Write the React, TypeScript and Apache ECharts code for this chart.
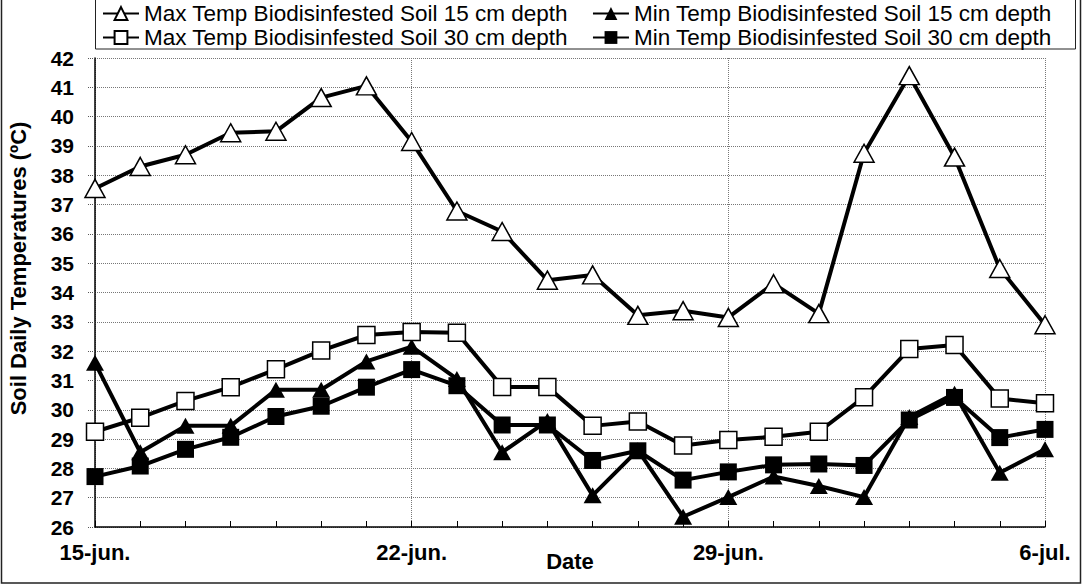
import React, { useEffect, useRef } from "react";
import * as echarts from "echarts";

const categories = [
  "15-jun.", "16-jun.", "17-jun.", "18-jun.", "19-jun.", "20-jun.", "21-jun.",
  "22-jun.", "23-jun.", "24-jun.", "25-jun.", "26-jun.", "27-jun.", "28-jun.",
  "29-jun.", "30-jun.", "1-jul.", "2-jul.", "3-jul.", "4-jul.", "5-jul.", "6-jul.",
];

const max15 = [37.55, 38.3, 38.7, 39.45, 39.5, 40.65, 41.05, 39.15, 36.78, 36.08, 34.42, 34.6, 33.22, 33.38, 33.15, 34.3, 33.28, 38.75, 41.4, 38.62, 34.82, 32.9];
const min15 = [31.6, 28.55, 29.45, 29.45, 30.68, 30.68, 31.65, 32.15, 31.05, 28.55, 29.62, 27.08, 28.62, 26.35, 27.02, 27.72, 27.4, 27.02, 29.75, 30.55, 27.85, 28.65];
const max30 = [29.25, 29.73, 30.3, 30.77, 31.38, 32.02, 32.55, 32.65, 32.63, 30.78, 30.78, 29.45, 29.6, 28.78, 28.97, 29.08, 29.25, 30.43, 32.07, 32.21, 30.38, 30.22];
const min30 = [27.72, 28.08, 28.65, 29.06, 29.77, 30.12, 30.77, 31.37, 30.82, 29.48, 29.48, 28.27, 28.6, 27.6, 27.88, 28.12, 28.15, 28.1, 29.65, 30.42, 29.05, 29.33];

const names = [
  "Max Temp Biodisinfested Soil 15 cm depth",
  "Min Temp Biodisinfested Soil 15 cm depth",
  "Max Temp Biodisinfested Soil 30 cm depth",
  "Min Temp Biodisinfested Soil 30 cm depth",
];

const yMin = 26;
const yMax = 42;
const yStep = 1;

const FONT = "'Liberation Sans', Arial, Helvetica, sans-serif";

export default function App() {
  const ref = useRef<HTMLDivElement>(null);

  useEffect(() => {
    if (!ref.current) return;
    const chart = echarts.init(ref.current, null, { renderer: "svg" });

    const mkSeries = (name: string, data: number[], symbol: string, size: any, filled: boolean) => ({
      name,
      type: "line",
      data,
      symbol,
      symbolSize: size,
      showSymbol: true,
      lineStyle: { color: "#000", width: 4 },
      itemStyle: {
        color: filled ? "#000" : "#fff",
        borderColor: "#000",
        borderWidth: filled ? 0 : 1.5,
      },
      emphasis: { disabled: true },
    });

    const legendText = { fontFamily: FONT, fontSize: 22.5, color: "#000" };
    const legendCommon = {
      left: 102,
      padding: 0,
      itemGap: 24,
      itemWidth: 36,
      itemHeight: 16,
      textStyle: legendText,
    };

    chart.setOption({
      animation: false,
      backgroundColor: "#fff",
      textStyle: { fontFamily: FONT },
      graphic: [
        {
          type: "rect",
          silent: true,
          shape: { x: 1.5, y: -1, width: 1079, height: 584 },
          style: { fill: "none", stroke: "#222", lineWidth: 1.5 },
        },
        {
          type: "rect",
          silent: true,
          shape: { x: 95.5, y: -1, width: 980, height: 50 },
          style: { fill: "none", stroke: "#222", lineWidth: 1 },
        },
      ],
      legend: [
        { ...legendCommon, data: [names[0], names[1]], top: 2 },
        { ...legendCommon, data: [names[2], names[3]], top: 26 },
      ],
      grid: {
        left: 95,
        right: 39,
        top: 58,
        bottom: 59,
        containLabel: false,
        outerBoundsMode: "none",
      },
      xAxis: {
        type: "category",
        data: categories,
        boundaryGap: false,
        name: "Date",
        nameLocation: "middle",
        nameGap: 23,
        nameMoveOverlap: false,
        nameTextStyle: { fontFamily: FONT, fontSize: 22, fontWeight: "bold", color: "#000" },
        axisLine: { lineStyle: { color: "#000", width: 1.5 } },
        axisTick: { show: true, inside: true, length: 6, interval: 0, lineStyle: { color: "#000" } },
        axisLabel: {
          interval: (i: number) => i % 7 === 0,
          fontFamily: FONT,
          fontSize: 22,
          fontWeight: "bold",
          color: "#000",
          margin: 14,
        },
        splitLine: {
          show: true,
          interval: (i: number) => i % 7 === 0,
          lineStyle: { color: "#777", type: "dotted", width: 1 },
        },
      },
      yAxis: {
        type: "value",
        min: yMin,
        max: yMax,
        interval: yStep,
        name: "Soil Daily Temperatures (ºC)",
        nameLocation: "middle",
        nameGap: 66,
        nameMoveOverlap: false,
        nameTextStyle: {
          fontFamily: FONT,
          fontSize: 22,
          fontWeight: "bold",
          color: "#000",
          padding: [0, 0, 0, 48],
        },
        axisLine: { show: true, lineStyle: { color: "#000", width: 1.5 } },
        axisTick: { show: true, length: 7, lineStyle: { color: "#555", type: "dotted" } },
        axisLabel: {
          fontFamily: FONT,
          fontSize: 21,
          fontWeight: "bold",
          color: "#000",
          margin: 21,
        },
        splitLine: { show: true, lineStyle: { color: "#777", type: "dotted", width: 1 } },
      },
      series: [
        mkSeries(names[0], max15, "triangle", [20, 18], false),
        mkSeries(names[1], min15, "triangle", [18, 16], true),
        mkSeries(names[2], max30, "rect", [17, 17], false),
        mkSeries(names[3], min30, "rect", [17, 17], true),
      ],
    });

    return () => chart.dispose();
  }, []);

  return (
    <div
      ref={ref}
      style={{ position: "fixed", left: 0, top: 0, width: 1084, height: 586, background: "#fff" }}
    />
  );
}
